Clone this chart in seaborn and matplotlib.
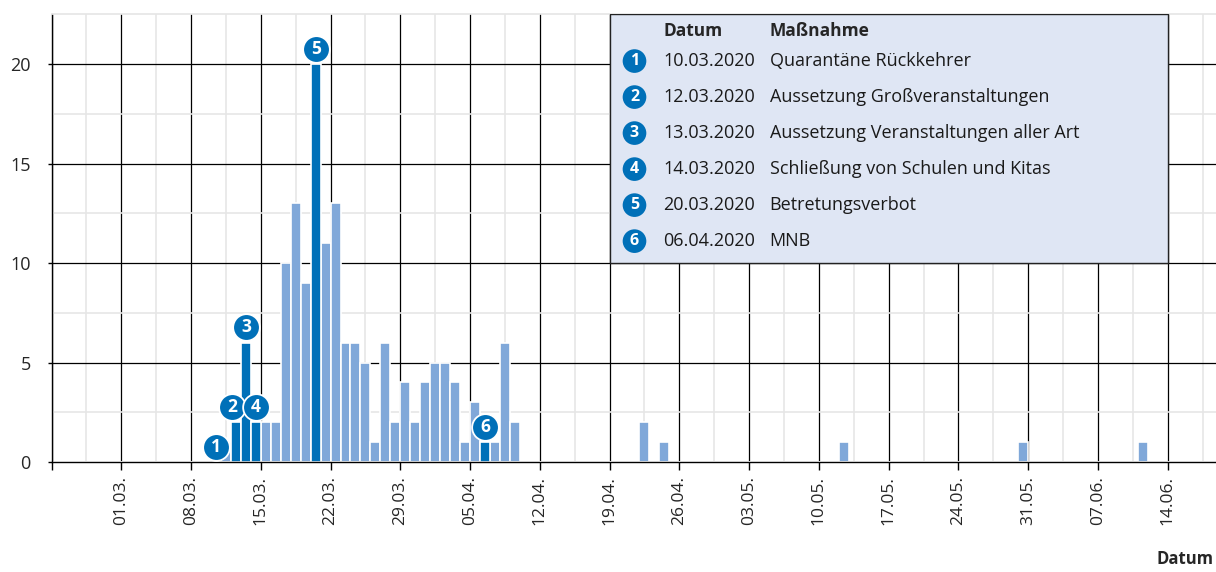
import pandas as pd
import matplotlib
matplotlib.use("Agg")
import matplotlib.pyplot as plt
import matplotlib.dates as mdates
from matplotlib.patches import Rectangle
import seaborn as sns

# daily case counts (Datum -> Anzahl)
case_dates = [
    "2020-03-10", "2020-03-11", "2020-03-12", "2020-03-13", "2020-03-14", "2020-03-15",
    "2020-03-16", "2020-03-17", "2020-03-18", "2020-03-19", "2020-03-20", "2020-03-21",
    "2020-03-22", "2020-03-23", "2020-03-24", "2020-03-25", "2020-03-26", "2020-03-27",
    "2020-03-28", "2020-03-29", "2020-03-30", "2020-03-31", "2020-04-01", "2020-04-02",
    "2020-04-03", "2020-04-04", "2020-04-05", "2020-04-06", "2020-04-07", "2020-04-08",
    "2020-04-09", "2020-04-22", "2020-04-24", "2020-05-12", "2020-05-30", "2020-06-11",
]
case_counts = [
    0, 1, 2, 6, 2, 2,
    2, 10, 13, 9, 20, 11,
    13, 6, 6, 5, 1, 6,
    2, 4, 2, 4, 5, 5,
    4, 1, 3, 1, 1, 6,
    2, 2, 1, 1, 1, 1,
]

# measures (Maßnahmen)
measure_ids = ["1", "2", "3", "4", "5", "6"]
measure_dates = ["2020-03-10", "2020-03-12", "2020-03-13", "2020-03-14", "2020-03-20", "2020-04-06"]
measure_names = [
    "Quarantäne Rückkehrer",
    "Aussetzung Großveranstaltungen",
    "Aussetzung Veranstaltungen aller Art",
    "Schließung von Schulen und Kitas",
    "Betretungsverbot",
    "MNB",
]

light_blue = "#80a8d9"
dark_blue = "#0070b8"
box_fill = "#dfe6f4"

sns.set_theme(style="white")
plt.rcParams["font.family"] = ["Open Sans", "DejaVu Sans"]

df = pd.DataFrame({"date": pd.to_datetime(case_dates), "count": case_counts})
df["num"] = mdates.date2num(df["date"])
m_num = mdates.date2num(pd.to_datetime(measure_dates))
df["measure"] = df["num"].isin(m_num)

x_start = mdates.date2num(pd.Timestamp("2020-02-23"))
x_end = mdates.date2num(pd.Timestamp("2020-06-19"))
edges = [x_start + i for i in range(int(x_end - x_start) + 1)]

fig = plt.figure(figsize=(12.16, 5.72), dpi=100)
ax = fig.add_axes([51.5 / 1216, 110 / 572, 1166 / 1216, 447.7 / 572])

for is_m, col in [(False, light_blue), (True, dark_blue)]:
    sub = df[df["measure"] == is_m]
    sns.histplot(x=sub["num"], weights=sub["count"], bins=edges, color=col,
                 alpha=1, edgecolor="white", linewidth=1.2, ax=ax)

ax.set_xlim(x_start, x_end)
ax.set_ylim(0, 22.5)

# axes / grid
major = [x_start + 7 * i for i in range(17)]
minor = [x_start + 3.5 + 7 * i for i in range(17)]
ax.set_xticks(major)
ax.set_xticklabels([""] + [mdates.num2date(v).strftime("%d.%m.") for v in major[1:]],
                   rotation=90, fontsize=12.5)
ax.set_xticks(minor, minor=True)
ax.set_yticks([0, 5, 10, 15, 20])
ax.set_yticks([2.5, 7.5, 12.5, 17.5], minor=True)
ax.tick_params(axis="y", labelsize=13, length=3, width=1, color="black", pad=12, left=True)
ax.tick_params(axis="x", length=6, width=1, color="black", pad=4, bottom=True)
ax.tick_params(which="minor", length=0)
ax.grid(which="major", color="black", linewidth=0.9)
ax.grid(which="minor", color="#e6e6e6", linewidth=1.2)
ax.set_axisbelow(True)
for s in ["left", "bottom"]:
    ax.spines[s].set_color("black")
    ax.spines[s].set_linewidth(1)
ax.spines["top"].set_color("#e6e6e6")
ax.spines["right"].set_visible(False)
ax.set_xlabel("")
ax.set_ylabel("")

# measure markers above bars
counts_by_num = dict(zip(df["num"], df["count"]))
mx = [v + 0.5 for v in m_num]
mx[1] -= 0.35
my = [counts_by_num[v] + 0.77 for v in m_num]
sns.scatterplot(x=mx, y=my, s=370, color=dark_blue, edgecolor="white", linewidth=1.3,
                ax=ax, zorder=5, clip_on=False, legend=False)
for x, y, t in zip(mx, my, measure_ids):
    ax.text(x, y, t, color="white", fontsize=12.5, fontweight="bold",
            ha="center", va="center", zorder=6)

# table box
box_left = mdates.date2num(pd.Timestamp("2020-04-19"))
box_right = mdates.date2num(pd.Timestamp("2020-06-14"))
ax.add_patch(Rectangle((box_left, 10), box_right - box_left, 12.5, facecolor=box_fill,
                       edgecolor="#222222", linewidth=1, zorder=4))
ax.text(box_left + 5.4, 21.66, "Datum", fontsize=12.5, fontweight="bold", va="center", zorder=6)
ax.text(box_left + 16.05, 21.66, "Maßnahme", fontsize=12.5, fontweight="bold", va="center", zorder=6)
row_y = [20.15 - 1.81 * i for i in range(len(measure_ids))]
sns.scatterplot(x=[box_left + 2.5] * len(row_y), y=row_y, s=290, color=dark_blue,
                edgecolor="none", ax=ax, zorder=5, legend=False)
for y, t, d, name in zip(row_y, measure_ids, measure_dates, measure_names):
    ax.text(box_left + 2.5, y, t, color="white", fontsize=11.5, fontweight="bold",
            ha="center", va="center", zorder=6)
    ax.text(box_left + 5.4, y, pd.Timestamp(d).strftime("%d.%m.%Y"), fontsize=13,
            color="#1a1a1a", va="center", zorder=6)
    ax.text(box_left + 16.05, y, name, fontsize=13, color="#1a1a1a", va="center", zorder=6)

fig.text(1213 / 1216, 4 / 572, "Datum", fontsize=12, fontweight="bold",
         ha="right", va="bottom")

fig.savefig("out.png", dpi=100)
